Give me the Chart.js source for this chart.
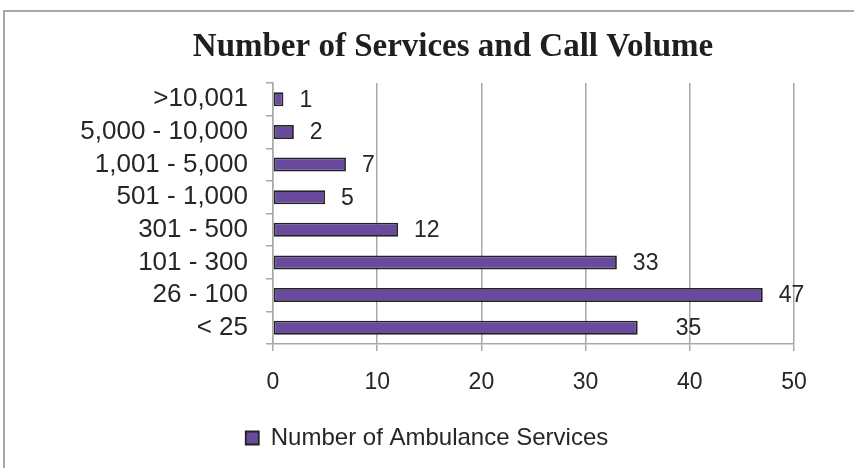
<!DOCTYPE html>
<html>
<head>
<meta charset="utf-8">
<script src="https://cdn.jsdelivr.net/npm/chart.js@4/dist/chart.umd.min.js"></script>
<style>
  html, body { margin: 0; padding: 0; background: #ffffff; }
  #wrap { width: 854px; height: 468px; }
</style>
</head>
<body>
<div id="wrap"><canvas id="c" width="854" height="468"></canvas></div>
<script>
// Chart content
const chartTitle = 'Number of Services and Call Volume';
const seriesName = 'Number of Ambulance Services';
const callVolumeBands = ['>10,001', '5,000 - 10,000', '1,001 - 5,000', '501 - 1,000',
                         '301 - 500', '101 - 300', '26 - 100', '< 25'];
const serviceCounts = [1, 2, 7, 5, 12, 33, 47, 35];
const xTickValues = [0, 10, 20, 30, 40, 50];

const TEXT = '#262626';
const GRID = '#a9a9a9';
const SANS = 'Liberation Sans, Arial, sans-serif';

// Outer frame and the serif heading
const frameAndHeading = {
  id: 'frameAndHeading',
  beforeDraw(chart) {
    const ctx = chart.ctx;
    ctx.save();
    ctx.strokeStyle = '#a8a8a8';
    ctx.lineWidth = 2;
    ctx.strokeRect(4, 11, chart.width + 20, chart.height + 20);
    ctx.restore();
  },
  afterDraw(chart, args, opts) {
    const ctx = chart.ctx;
    ctx.save();
    ctx.font = 'bold 33px "Liberation Serif", "Times New Roman", serif';
    ctx.fillStyle = '#1f1f1f';
    ctx.textAlign = 'center';
    ctx.textBaseline = 'middle';
    ctx.fillText(opts.text, opts.x, opts.y);
    ctx.restore();
  }
};

// Value written just past the end of each bar
const valueLabels = {
  id: 'valueLabels',
  afterDatasetsDraw(chart, args, opts) {
    const meta = chart.getDatasetMeta(0);
    const values = chart.data.datasets[0].data;
    const ctx = chart.ctx;
    ctx.save();
    ctx.font = '23px ' + SANS;
    ctx.fillStyle = TEXT;
    ctx.textAlign = 'left';
    ctx.textBaseline = 'middle';
    meta.data.forEach((bar, i) => {
      const shift = (opts.extraShift && opts.extraShift[i]) || 0;
      ctx.fillText(String(values[i]), bar.x + opts.gap + shift, bar.y + 1);
    });
    ctx.restore();
  }
};

new Chart(document.getElementById('c'), {
  type: 'bar',
  data: {
    labels: callVolumeBands,
    datasets: [{
      label: seriesName,
      data: serviceCounts,
      backgroundColor: '#6a4a9c',
      borderColor: '#232323',
      borderWidth: 1.8,
      borderSkipped: false,
      barPercentage: 0.43,
      categoryPercentage: 1.0,
      xAxisID: 'x',
      yAxisID: 'y'
    }]
  },
  options: {
    indexAxis: 'y',
    responsive: false,
    animation: false,
    layout: { padding: { left: 0, right: 0, top: 83, bottom: 8 } },
    scales: {
      x: {
        type: 'linear',
        position: 'bottom',
        min: 0,
        max: 50,
        afterBuildTicks(scale) { scale.ticks = xTickValues.map(v => ({ value: v })); },
        grid: { color: GRID, lineWidth: 1.5, drawTicks: true, tickLength: 7, tickColor: GRID },
        border: { display: true, color: GRID, width: 1.5 },
        ticks: { font: { family: SANS, size: 23 }, color: TEXT, padding: 18, maxRotation: 0 },
        afterFit(scale) { scale.height = 72; }
      },
      y: {
        type: 'category',
        position: 'left',
        grid: { display: true, drawOnChartArea: false, drawTicks: true, tickLength: 7,
                color: GRID, lineWidth: 1.5, offset: true },
        border: { display: true, color: GRID, width: 1.5 },
        ticks: { font: { family: SANS, size: 26 }, color: TEXT, padding: 18, autoSkip: false },
        afterFit(scale) { scale.width = 273; }
      },
      ySpace: {
        type: 'linear',
        position: 'right',
        display: true,
        grid: { display: false },
        border: { display: false },
        ticks: { display: false },
        afterFit(scale) { scale.width = 60; }
      }
    },
    plugins: {
      title: { display: false },
      tooltip: { enabled: false },
      legend: {
        display: true,
        position: 'bottom',
        labels: {
          boxWidth: 13,
          boxHeight: 13,
          padding: 10,
          color: TEXT,
          font: { family: SANS, size: 24 }
        }
      },
      frameAndHeading: { text: chartTitle, x: 453, y: 47 },
      valueLabels: { gap: 16, extraShift: { 7: 22 } }
    }
  },
  plugins: [frameAndHeading, valueLabels]
});
</script>
</body>
</html>
